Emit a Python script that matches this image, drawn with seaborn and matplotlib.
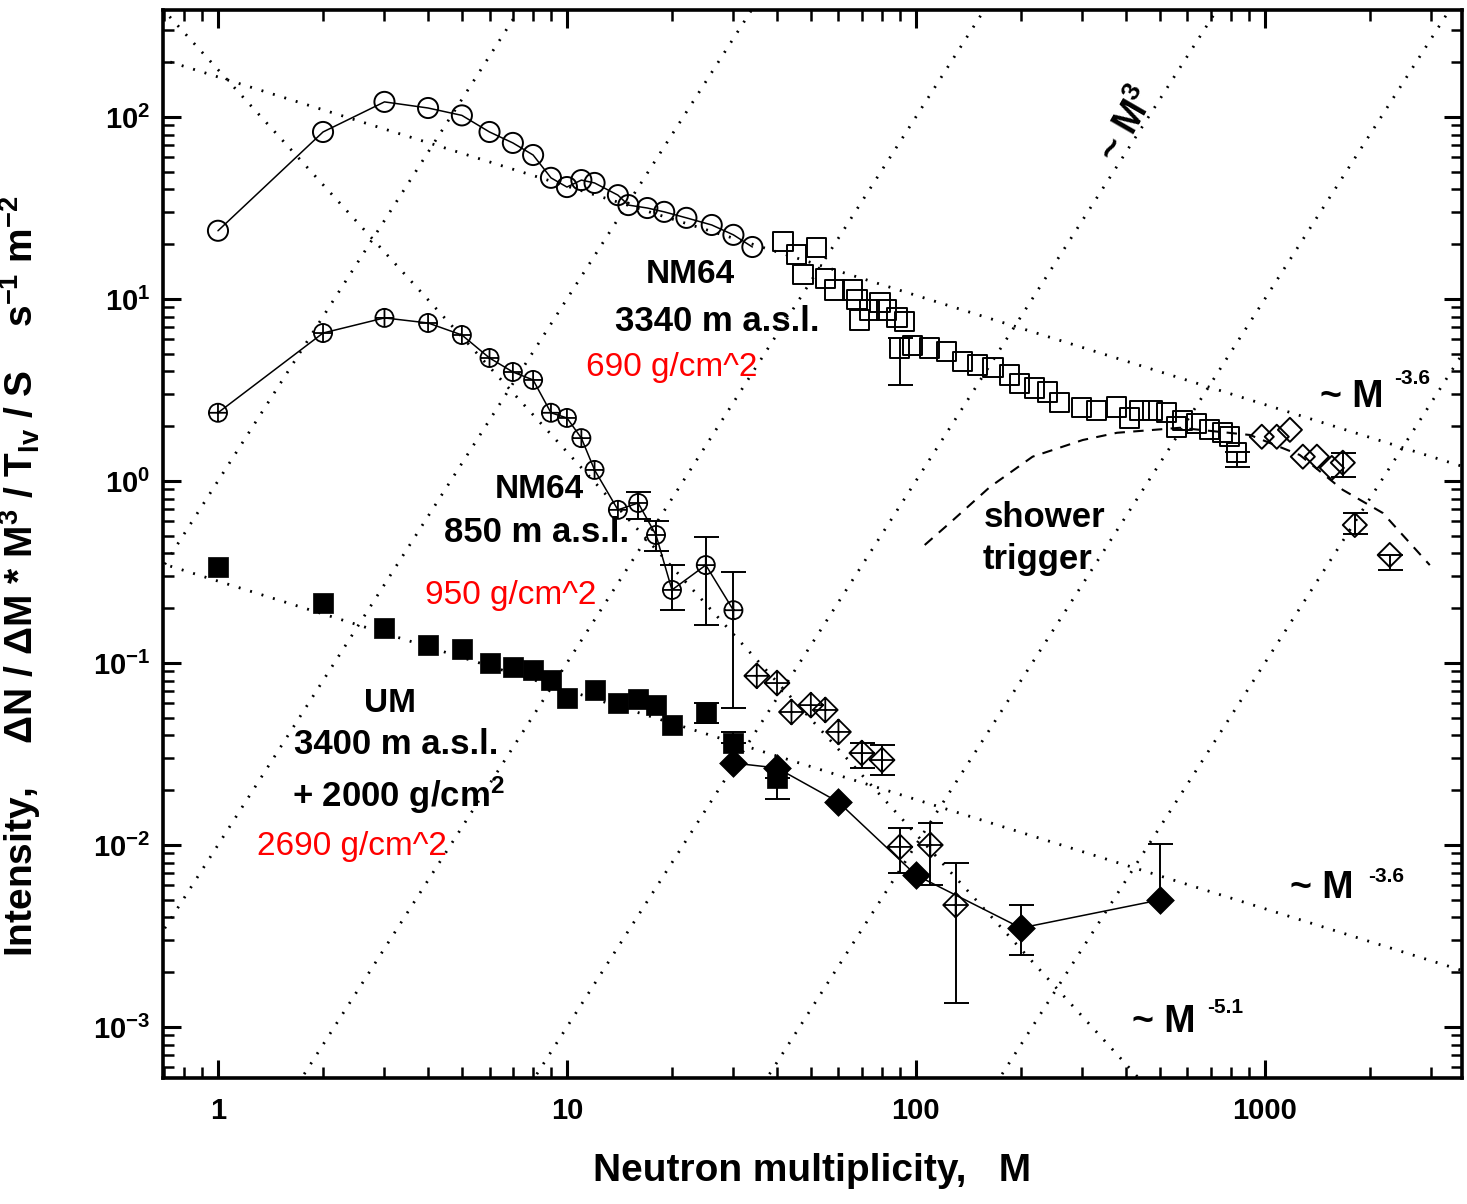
import numpy as np
import matplotlib
matplotlib.use("Agg")
import matplotlib.pyplot as plt
import seaborn as sns
from matplotlib import font_manager
from matplotlib.path import Path
from matplotlib.ticker import LogLocator, FuncFormatter, NullFormatter

# ---------------- data ----------------
# NM64, 3340 m a.s.l. - open circles
nm3340_circ_M = [1, 2, 3, 4, 5, 6, 7, 8, 9, 10, 11, 12, 14, 15, 17, 19, 22, 26, 30, 34]
nm3340_circ_I = [23.7, 82.7, 121, 112, 102, 82.7, 72, 61.8, 46.3, 41.2, 45, 43.4, 37.2,
                 32.8, 31.6, 30.1, 27.9, 25.5, 22.5, 19.3]
# NM64, 3340 m a.s.l. - open squares
nm3340_sq_M = [41.6, 45.6, 52.0, 47.5, 55.2, 58.6, 66.0, 67.8, 69.1, 73.8, 78.9, 82.6, 88.3,
               93.0, 90.0, 98.0, 109.6, 122.7, 136.4, 150.6, 166.3, 185.9, 198.6, 219.3,
               238.8, 258.7, 299.0, 330.2, 376.7, 410.4, 438.4, 477.6, 523.6, 559.7, 582.3,
               638.4, 695.5, 758.0, 794.0, 831.0]
nm3340_sq_I = [20.8, 17.5, 19.1, 13.6, 13.0, 11.2, 11.2, 9.9, 7.67, 8.7, 9.6, 8.7, 7.87,
               7.48, 5.38, 5.58, 5.38, 5.12, 4.51, 4.34, 4.18, 3.82, 3.45, 3.24,
               3.08, 2.69, 2.52, 2.45, 2.55, 2.22, 2.45, 2.45, 2.37, 1.98, 2.16,
               2.08, 1.91, 1.84, 1.75, 1.44]
# NM64, 3340 m a.s.l. - open diamonds (shower trigger)
nm3340_dia_M = [980, 1082, 1180, 1285, 1410, 1556, 1673, 1811, 2280]
nm3340_dia_I = [1.75, 1.75, 1.91, 1.36, 1.36, 1.18, 1.26, 0.573, 0.392]
# NM64, 850 m a.s.l. - crossed circles
nm850_M = [1, 2, 3, 4, 5, 6, 7, 8, 9, 10, 11, 12, 14, 16, 18, 20, 25, 30]
nm850_I = [2.37, 6.5, 7.87, 7.38, 6.34, 4.74, 3.97, 3.59, 2.37, 2.22, 1.72, 1.15, 0.694,
           0.757, 0.505, 0.252, 0.345, 0.195]
# NM64, 850 m a.s.l. - crossed diamonds
nm850_dia_M = [35, 40, 44, 50, 55, 60, 70, 80, 90, 110, 130]
nm850_dia_I = [0.085, 0.0776, 0.0538, 0.0587, 0.0552, 0.0418, 0.032, 0.0293, 0.00976, 0.0100, 0.00468]
# UM, 3400 m a.s.l. + 2000 g/cm2 - filled squares
um_sq_M = [1, 2, 3, 4, 5, 6, 7, 8, 9, 10, 12, 14, 16, 18, 20, 25, 30, 40]
um_sq_I = [0.336, 0.214, 0.156, 0.126, 0.119, 0.100, 0.095, 0.0916, 0.0807, 0.0643, 0.0711,
           0.0603, 0.0634, 0.0587, 0.0456, 0.0531, 0.0363, 0.0232]
# UM - filled diamonds
um_dia_M = [30, 40, 60, 100, 200, 500]
um_dia_I = [0.0282, 0.0265, 0.0172, 0.00684, 0.0035, 0.00499]
# shower trigger efficiency curve (dashed)
trigger_M = [106, 125, 163, 216, 301, 377, 571, 906, 1259, 1672, 2178, 2970]
trigger_I = [0.445, 0.587, 0.927, 1.36, 1.68, 1.84, 1.96, 1.79, 1.39, 0.894, 0.667, 0.345]

# error bars: (M, value, lower end, upper end)
err_M =  [16, 18, 20, 25, 30, 70, 80, 90, 110, 130,
          90, 831, 1673, 1811, 2280,
          25, 30, 40, 200, 500]
err_I =  [0.757, 0.505, 0.252, 0.345, 0.195, 0.032, 0.0293, 0.00976, 0.0100, 0.00468,
          5.38, 1.44, 1.26, 0.573, 0.392,
          0.0531, 0.0363, 0.0232, 0.0035, 0.00499]
err_lo = [0.62, 0.41, 0.195, 0.162, 0.0566, 0.0265, 0.0243, 0.00702, 0.00603, 0.00136,
          3.37, 1.19, 1.05, 0.509, 0.324,
          0.047, 0.0363, 0.0179, 0.00249, 0.00499]
err_hi = [0.871, 0.60, 0.345, 0.492, 0.316, 0.0363, 0.0354, 0.0124, 0.0132, 0.00796,
          6.10, 1.44, 1.43, 0.664, 0.392,
          0.060, 0.0418, 0.0232, 0.00468, 0.0101]

# power-law guide lines: exponent in this M^3-weighted plot and log10 normalisation
guide_exp = [-0.6, -0.6, -2.1, 3, 3, 3, 3, 3, 3]
guide_lognorm = [2.22, -0.55, 2.26, 0, -2, -4, -6, -8, -10]

# ---------------- style ----------------
sns.set_style("ticks")
names = {f.name for f in font_manager.fontManager.ttflist}
base = 'Liberation Sans Narrow' if 'Liberation Sans Narrow' in names else 'Liberation Sans'
plt.rcParams['font.family'] = [base, 'DejaVu Sans']
plt.rcParams['font.weight'] = 'bold'
plt.rcParams['text.color'] = 'black'
plt.rcParams['axes.labelcolor'] = 'black'
plt.rcParams['xtick.color'] = 'black'
plt.rcParams['ytick.color'] = 'black'
plt.rcParams['mathtext.fontset'] = 'custom'
plt.rcParams['mathtext.rm'] = f'{base}:bold'
plt.rcParams['mathtext.it'] = f'{base}:bold'
plt.rcParams['mathtext.bf'] = f'{base}:bold'
plt.rcParams['mathtext.sf'] = f'{base}:bold'
plt.rcParams['axes.unicode_minus'] = False

fig = plt.figure(figsize=(14.67, 12.04), dpi=100)
ax = fig.add_axes([0.111, 0.1047, 0.8855, 0.887])
ax.set_xscale('log')
ax.set_yscale('log')
ax.set_xlim(0.695, 3670)
ax.set_ylim(5.25e-4, 387)

# guide lines
Mgrid = np.logspace(-0.3, 3.7, 300)
for ex, ln in zip(guide_exp, guide_lognorm):
    sns.lineplot(x=Mgrid, y=10 ** ln * Mgrid ** ex, color='black', lw=2.0,
                 linestyle=(0, (0.7, 3.6)), estimator=None, sort=False, ax=ax, zorder=1)

# shower trigger curve
sns.lineplot(x=trigger_M, y=trigger_I, color='black', lw=1.5, linestyle=(0, (5, 4)),
             estimator=None, sort=False, ax=ax, zorder=1)

# connecting solid lines
sns.lineplot(x=nm3340_circ_M, y=nm3340_circ_I, color='black', lw=1.1, estimator=None,
             sort=False, ax=ax, zorder=2)
sns.lineplot(x=nm850_M, y=nm850_I, color='black', lw=1.1, estimator=None,
             sort=False, ax=ax, zorder=2)
sns.lineplot(x=um_dia_M, y=um_dia_I, color='black', lw=1.1, estimator=None,
             sort=False, ax=ax, zorder=2)

# error bars
yl = np.array(err_I) - np.array(err_lo)
yh = np.array(err_hi) - np.array(err_I)
ax.errorbar(err_M, err_I, yerr=[yl, yh], fmt='none', ecolor='black', elinewidth=1.4,
            capsize=9, capthick=1.4, zorder=3)

# custom markers
circ = Path.unit_circle()
plus = Path([[-1, 0], [1, 0], [0, -1], [0, 1]],
            [Path.MOVETO, Path.LINETO, Path.MOVETO, Path.LINETO])
diam = Path([[0, 1], [1, 0], [0, -1], [-1, 0], [0, 1]],
            [Path.MOVETO, Path.LINETO, Path.LINETO, Path.LINETO, Path.CLOSEPOLY])
crossed_circle = Path.make_compound_path(circ, plus)
crossed_diamond = Path.make_compound_path(diam, plus)

sns.scatterplot(x=nm3340_circ_M, y=nm3340_circ_I, marker='o', s=210, facecolors='none',
                edgecolor='black', linewidth=1.4, ax=ax, zorder=4)
sns.scatterplot(x=nm3340_sq_M, y=nm3340_sq_I, marker='s', s=190, facecolors='none',
                edgecolor='black', linewidth=1.4, ax=ax, zorder=4)
sns.scatterplot(x=nm3340_dia_M, y=nm3340_dia_I, marker=diam, s=300, facecolors='none',
                edgecolor='black', linewidth=1.4, ax=ax, zorder=4)
sns.scatterplot(x=nm850_M, y=nm850_I, marker=crossed_circle, s=170, facecolors='none',
                edgecolor='black', linewidth=1.3, ax=ax, zorder=4)
sns.scatterplot(x=nm850_dia_M, y=nm850_dia_I, marker=crossed_diamond, s=320, facecolors='none',
                edgecolor='black', linewidth=1.3, ax=ax, zorder=4)
sns.scatterplot(x=um_sq_M, y=um_sq_I, marker='s', s=220, color='black',
                edgecolor='black', linewidth=0.5, ax=ax, zorder=4)
sns.scatterplot(x=um_dia_M, y=um_dia_I, marker=diam, s=400, color='black',
                edgecolor='black', linewidth=0.5, ax=ax, zorder=5)

# ---------------- axes styling ----------------
for sp in ax.spines.values():
    sp.set_linewidth(2.6)
    sp.set_color('black')
ax.tick_params(which='major', direction='in', length=13, width=2.2, top=True, right=True,
               labelsize=21, colors='black')
ax.tick_params(which='minor', direction='in', length=8, width=1.8, top=True, right=True,
               colors='black')
ax.tick_params(axis='x', which='major', pad=14)
ax.tick_params(axis='y', which='major', pad=9)
ax.xaxis.set_major_locator(LogLocator(base=10, numticks=10))
ax.xaxis.set_minor_locator(LogLocator(base=10, subs=np.arange(2, 10), numticks=20))
ax.yaxis.set_major_locator(LogLocator(base=10, numticks=12))
ax.yaxis.set_minor_locator(LogLocator(base=10, subs=np.arange(2, 10), numticks=30))
ax.xaxis.set_major_formatter(FuncFormatter(lambda v, p: f"{v:g}"))
ax.xaxis.set_minor_formatter(NullFormatter())
ax.yaxis.set_major_formatter(FuncFormatter(lambda v, p: f"10$^{{{int(round(np.log10(v)))}}}$"))
ax.yaxis.set_minor_formatter(NullFormatter())
for lab in ax.get_xticklabels() + ax.get_yticklabels():
    lab.set_fontweight('bold')

ax.set_xlabel("Neutron multiplicity,   M", fontsize=28, fontweight='bold', labelpad=20,
              color='black')
ax.set_ylabel(r"Intensity,    $\Delta$N / $\Delta$M * M$^3$ / T$_{lv}$ / S    s$^{-1}$ m$^{-2}$",
              fontsize=28, fontweight='bold', color='black')
ax.yaxis.set_label_coords(-0.092, 0.47)

# ---------------- annotations ----------------
T = ax.transAxes
def txt(x, y, s, size=24, color='black', weight='bold', **kw):
    ax.text(x, y, s, transform=T, fontsize=size, color=color, fontweight=weight,
            ha=kw.pop('ha', 'center'), va=kw.pop('va', 'center'), **kw)

txt(0.4057, 0.752, "NM64", 24)
txt(0.4265, 0.708, "3340 m a.s.l.", 25)
txt(0.392, 0.665, "690 g/cm^2", 24, color='red', weight='normal', family='Liberation Sans')
txt(0.290, 0.5506, "NM64", 24)
txt(0.288, 0.511, "850 m a.s.l.", 25)
txt(0.268, 0.452, "950 g/cm^2", 24, color='red', weight='normal', family='Liberation Sans')
txt(0.1748, 0.351, "UM", 24)
txt(0.180, 0.312, "3400 m a.s.l.", 25)
txt(0.181, 0.265, r"+ 2000 g/cm$^2$", 25)
txt(0.1455, 0.217, "2690 g/cm^2", 24, color='red', weight='normal', family='Liberation Sans')
txt(0.679, 0.525, "shower", 25)
txt(0.673, 0.485, "trigger", 25)

txt(0.891, 0.638, "~ M", 27, ha='left')
txt(0.948, 0.655, "-3.6", 15, ha='left')
txt(0.868, 0.178, "~ M", 27, ha='left')
txt(0.928, 0.189, "-3.6", 15, ha='left')
txt(0.746, 0.0524, "~ M", 27, ha='left')
txt(0.804, 0.0655, "-5.1", 15, ha='left')
txt(0.743, 0.892, r"~ M$^3$", 27, rotation=60)

fig.savefig("out.png", dpi=100)
